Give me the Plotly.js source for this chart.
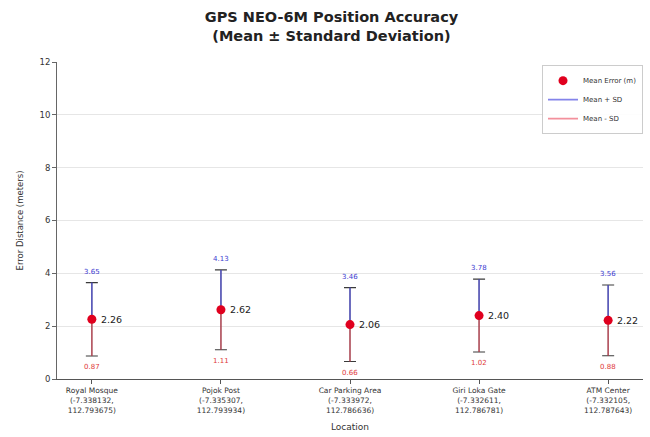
<!DOCTYPE html>
<html>
<head>
<meta charset="utf-8">
<script src="https://cdn.plot.ly/plotly-3.0.1.min.js"></script>
<style>html,body{margin:0;padding:0;background:#fff;}#chart{width:650px;height:437px;}</style>
</head>
<body>
<div id="chart"></div>
<script>
const locations = ["Royal Mosque<br>(-7.338132,<br>112.793675)", "Pojok Post<br>(-7.335307,<br>112.793934)", "Car Parking Area<br>(-7.333972,<br>112.786636)", "Giri Loka Gate<br>(-7.332611,<br>112.786781)", "ATM Center<br>(-7.332105,<br>112.787643)"];
const meanError = [2.26, 2.62, 2.06, 2.40, 2.22];
const upperSD = [3.65, 4.13, 3.46, 3.78, 3.56];
const lowerSD = [0.87, 1.11, 0.66, 1.02, 0.88];
const yTicks = [0, 2, 4, 6, 8, 10, 12];

const idx = locations.map((_, i) => i);
const font = "DejaVu Sans, sans-serif";

const upX = [], upY = [], loX = [], loY = [];
idx.forEach(i => {
  upX.push(i, i, null); upY.push(meanError[i], upperSD[i], null);
  loX.push(i, i, null); loY.push(meanError[i], lowerSD[i], null);
});

const traces = [
  {
    x: idx, y: meanError, type: "scatter", mode: "markers",
    marker: {size: 1, color: "rgba(0,0,0,0)"},
    error_y: {type: "data", symmetric: false,
      array: idx.map(i => upperSD[i] - meanError[i]),
      arrayminus: idx.map(i => meanError[i] - lowerSD[i]),
      color: "#3a3a3a", thickness: 1.1, width: 6},
    showlegend: false, hoverinfo: "skip"
  },
  {
    x: upX, y: upY, type: "scatter", mode: "lines", name: "Mean + SD", legendrank: 2,
    line: {color: "rgba(80,80,225,0.7)", width: 1.6}
  },
  {
    x: loX, y: loY, type: "scatter", mode: "lines", name: "Mean - SD", legendrank: 3,
    line: {color: "rgba(235,70,90,0.6)", width: 1.6}
  },
  {
    x: idx, y: meanError, type: "scatter", mode: "markers", name: "Mean Error (m)", legendrank: 1,
    marker: {size: 9, color: "#e0001e"}
  }
];

const annotations = [];
idx.forEach(i => {
  annotations.push({x: i, y: meanError[i], text: meanError[i].toFixed(2), showarrow: false,
    xanchor: "left", xshift: 7, font: {family: font, size: 9.5, color: "#222"}});
  annotations.push({x: i, y: upperSD[i], text: upperSD[i].toFixed(2), showarrow: false,
    yanchor: "bottom", yshift: 5, font: {family: font, size: 7, color: "#3b3bd0"}});
  annotations.push({x: i, y: lowerSD[i], text: lowerSD[i].toFixed(2), showarrow: false,
    yanchor: "top", yshift: -5, font: {family: font, size: 7, color: "#e03a3a"}});
});

const layout = {
  width: 650, height: 437,
  margin: {l: 57, r: 7, t: 62, b: 58},
  paper_bgcolor: "#fff", plot_bgcolor: "#fff",
  font: {family: font, color: "#333"},
  title: {text: "<b>GPS NEO-6M Position Accuracy<br>(Mean ± Standard Deviation)</b>",
    font: {family: font, size: 14.5, color: "#222"}, x: 0.51, xanchor: "center", y: 0.95, yanchor: "top"},
  xaxis: {
    tickmode: "array", tickvals: idx, ticktext: locations,
    range: [-0.27, 4.27], showgrid: false, zeroline: false,
    showline: true, linecolor: "#555", linewidth: 1,
    ticks: "outside", ticklen: 4, tickcolor: "#555",
    tickfont: {family: font, size: 7.5, color: "#333"},
    title: {text: "Location", font: {family: font, size: 9, color: "#333"}, standoff: 10}
  },
  yaxis: {
    range: [0, 12], tickmode: "array", tickvals: yTicks,
    showgrid: true, gridcolor: "#e6e6e6", gridwidth: 1, zeroline: false,
    showline: true, linecolor: "#666", linewidth: 1,
    ticks: "outside", ticklen: 4, tickcolor: "#666",
    tickfont: {family: font, size: 8.5, color: "#333"},
    title: {text: "Error Distance (meters)", font: {family: font, size: 8.5, color: "#333"}, standoff: 14}
  },
  legend: {x: 1.0, y: 0.99, xanchor: "right", yanchor: "top",
    bordercolor: "#cccccc", borderwidth: 1, bgcolor: "rgba(255,255,255,0.9)",
    font: {family: font, size: 7, color: "#333"}, traceorder: "normal",
    itemwidth: 30, tracegroupgap: 0},
  annotations: annotations,
  showlegend: true
};

Plotly.newPlot("chart", traces, layout, {displayModeBar: false, staticPlot: true});
</script>
</body>
</html>
